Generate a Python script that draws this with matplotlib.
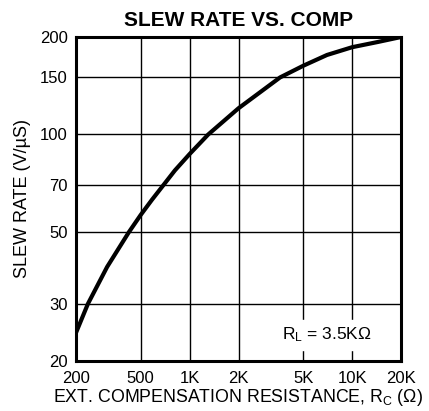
import matplotlib
matplotlib.use("Agg")
import matplotlib.pyplot as plt
from matplotlib.ticker import FixedLocator, FixedFormatter, NullLocator

plt.rcParams['font.family'] = ['Liberation Sans', 'DejaVu Sans']
plt.rcParams['mathtext.fontset'] = 'custom'
plt.rcParams['mathtext.rm'] = 'Liberation Sans'
plt.rcParams['mathtext.it'] = 'Liberation Sans'

# data
rc_ohms = [200, 237, 311, 424, 500, 586, 813, 1000, 1302, 2000, 3600, 5000, 7000, 10000, 14360, 20000]
slew_rate = [24.4, 30, 39, 50, 56.4, 62.8, 77.5, 87, 100, 120.5, 150, 163, 176, 186, 193, 200]

x_ticks = [200, 500, 1000, 2000, 5000, 10000, 20000]
x_labels = ['200', '500', '1K', '2K', '5K', '10K', '20K']
y_ticks = [20, 30, 50, 70, 100, 150, 200]
y_labels = ['20', '30', '50', '70', '100', '150', '200']

fig = plt.figure(figsize=(4.29, 4.11), dpi=100)
ax = fig.add_axes([0.177, 0.122, 0.758, 0.788])

ax.plot(rc_ohms, slew_rate, color='black', lw=3, solid_capstyle='butt', solid_joinstyle='round')

ax.set_xscale('log')
ax.set_yscale('log')
ax.set_xlim(200, 20000)
ax.set_ylim(20, 200)

ax.xaxis.set_major_locator(FixedLocator(x_ticks))
ax.xaxis.set_major_formatter(FixedFormatter(x_labels))
ax.xaxis.set_minor_locator(NullLocator())
ax.yaxis.set_major_locator(FixedLocator(y_ticks))
ax.yaxis.set_major_formatter(FixedFormatter(y_labels))
ax.yaxis.set_minor_locator(NullLocator())

ax.grid(True, color='black', lw=1)
ax.tick_params(length=0, labelsize=12)
ax.tick_params(axis='x', pad=7)
ax.tick_params(axis='y', pad=6)
for s in ax.spines.values():
    s.set_linewidth(2.2)

ax.set_title('SLEW RATE VS. COMP', fontsize=15, fontweight='bold', pad=8)
ax.set_xlabel(r'EXT. COMPENSATION RESISTANCE, R$_\mathrm{C}$ (Ω)', fontsize=12.8, labelpad=1)
ax.set_ylabel('SLEW RATE (V/µS)', fontsize=13, labelpad=6)

ax.text(0.634, 0.08, r'R$_\mathrm{L}$ = 3.5KΩ', transform=ax.transAxes,
        fontsize=12.5, backgroundcolor='white', va='center')

fig.savefig('out.png', dpi=100)
